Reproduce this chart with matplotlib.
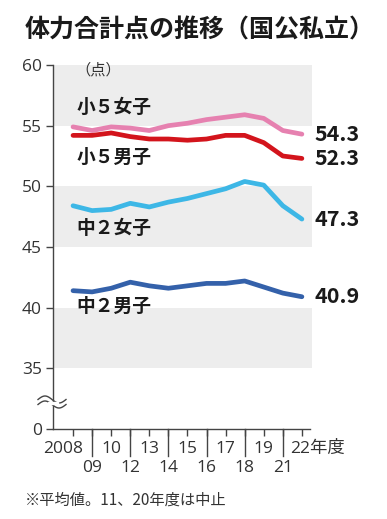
import numpy as np
import matplotlib
matplotlib.use("Agg")
import matplotlib.pyplot as plt
from matplotlib.transforms import blended_transform_factory

plt.rcParams['font.family'] = ['Noto Sans CJK JP', 'DejaVu Sans']

# 年度（11、20年度は中止）
years = ["2008", "09", "10", "12", "13", "14", "15", "16", "17", "18", "19", "21", "22"]
girls5 = [54.9, 54.6, 54.9, 54.8, 54.6, 55.0, 55.2, 55.5, 55.7, 55.9, 55.6, 54.6, 54.3]
boys5 = [54.2, 54.2, 54.4, 54.1, 53.9, 53.9, 53.8, 53.9, 54.2, 54.2, 53.6, 52.5, 52.3]
girls2 = [48.4, 48.0, 48.1, 48.6, 48.3, 48.7, 49.0, 49.4, 49.8, 50.4, 50.1, 48.4, 47.3]
boys2 = [41.4, 41.3, 41.6, 42.1, 41.8, 41.6, 41.8, 42.0, 42.0, 42.2, 41.7, 41.2, 40.9]
series_names = ["小５女子", "小５男子", "中２女子", "中２男子"]
yticks = [30, 35, 40, 45, 50, 55, 60]
ytick_labels = ["0", "35", "40", "45", "50", "55", "60"]

colors = ["#e681b0", "#d3141c", "#3db7e6", "#3461aa"]
num_font = ["Open Sans", "DejaVu Sans"]

W, H = 387, 519
fig = plt.figure(figsize=(W / 100, H / 100), dpi=100)
ax = fig.add_axes([53 / W, 1 - 429 / H, (312 - 53) / W, (429 - 65) / H])

x = np.arange(len(years))
ax.set_xlim(-1.05, 12.53)
ax.set_ylim(30, 60)

# 背景の帯
for lo, hi in [(55, 60), (45, 50), (35, 40)]:
    ax.axhspan(lo, hi, color="#ededed", lw=0, zorder=0)

all_series = [girls5, boys5, girls2, boys2]
for vals, c in zip(all_series, colors):
    ax.plot(x, vals, color=c, lw=3.4, solid_joinstyle="round", solid_capstyle="round", zorder=3)
    ax.text(x[-1] + 0.68, vals[-1], f"{vals[-1]:.1f}", fontsize=15.5, fontweight="bold",
            va="center", ha="left", color="#1a1a1a", clip_on=False)

# 系列ラベル
label_y = [56.5, 52.4, 46.5, 40.1]
for name, ly in zip(series_names, label_y):
    ax.text(0.2, ly, name, fontsize=13.5, fontweight="bold", va="center", ha="left", color="#1a1a1a")

ax.text(0.1, 59.55, "（点）", fontsize=11, va="center", ha="left", color="#333333")

for s in ["top", "right"]:
    ax.spines[s].set_visible(False)
for s in ["left", "bottom"]:
    ax.spines[s].set_color("#444444")
    ax.spines[s].set_linewidth(1.0)
ax.spines["bottom"].set_bounds(-1.05, 12.4)

ax.set_yticks(yticks)
ax.set_yticklabels(ytick_labels, fontsize=12.5, color="#333333", fontfamily=num_font)
ax.tick_params(axis="y", length=5, width=1.0, color="#444444", pad=3)

ax.set_xticks(x)
ax.set_xticklabels([])
ax.tick_params(axis="x", length=5, width=1.0, color="#444444")

# 区切り線と年ラベル
trans = blended_transform_factory(ax.transData, fig.transFigure)
for i, lab in enumerate(years):
    if i % 2 == 1:
        ax.plot([i, i], [1 - 429 / H, 1 - 456 / H], color="#444444", lw=1.0,
                transform=trans, clip_on=False)
        ax.text(i, 1 - 468 / H, lab, fontsize=12.5, ha="center", va="center", transform=trans,
                color="#333333", fontfamily=num_font)
    elif i == 0:
        ax.text(i - 0.5, 1 - 449 / H, lab, fontsize=12.5, ha="center", va="center", transform=trans,
                color="#333333", fontfamily=num_font)
    elif i == len(years) - 1:
        ax.text(i - 0.62, 1 - 449 / H, lab + "年度", fontsize=12.5, ha="left", va="center",
                transform=trans, color="#333333", fontfamily=num_font + ["Noto Sans CJK JP"])
    else:
        ax.text(i, 1 - 449 / H, lab, fontsize=12.5, ha="center", va="center", transform=trans,
                color="#333333", fontfamily=num_font)

# 省略記号（波線）
t = np.linspace(0, 1, 60)
bx = (38 + 28 * t) / W
for off in (-2.5, 2.5):
    by = 1 - (402 + off - 3.5 * np.sin(2 * np.pi * t)) / H
    fig.add_artist(plt.Line2D(bx, by, color="#444444", lw=1.0))
fig.add_artist(plt.Rectangle((48 / W, 1 - 404 / H), 10 / W, 2 / H, color="white", zorder=5))

fig.text(25 / W, 1 - 30 / H, "体力合計点の推移（国公私立）", fontsize=18, fontweight="bold",
         va="center", ha="left", color="#1a1a1a")
fig.text(25 / W, 1 - 500 / H, "※平均値。11、20年度は中止", fontsize=11, va="center", ha="left",
         color="#333333")

fig.savefig("out.png", dpi=100, facecolor="white")
